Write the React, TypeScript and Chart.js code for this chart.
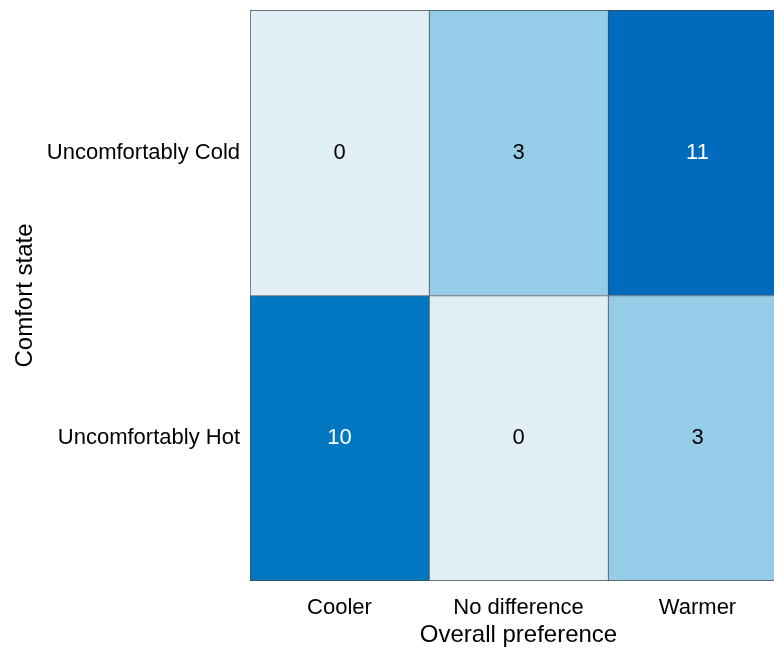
import React, { useEffect, useRef } from "react";
import { Chart, registerables } from "chart.js";

Chart.register(...registerables);

const xCategories = ["Cooler", "No difference", "Warmer"];
const yCategories = ["Uncomfortably Hot", "Uncomfortably Cold"]; // bottom to top
const hotCounts = [10, 0, 3];
const coldCounts = [0, 3, 11];
const xTitle = "Overall preference";
const yTitle = "Comfort state";

const colorStops: [number, [number, number, number]][] = [
  [0, [226, 238, 246]],
  [3, [149, 205, 233]],
  [10, [0, 120, 193]],
  [11, [0, 107, 188]],
];

function colorFor(v: number): string {
  for (let i = 0; i < colorStops.length - 1; i++) {
    const [a, ca] = colorStops[i];
    const [b, cb] = colorStops[i + 1];
    if (v >= a && v <= b) {
      const t = (v - a) / (b - a);
      const c = ca.map((x, k) => Math.round(x + (cb[k] - x) * t));
      return `rgb(${c[0]},${c[1]},${c[2]})`;
    }
  }
  const c = colorStops[colorStops.length - 1][1];
  return `rgb(${c[0]},${c[1]},${c[2]})`;
}

const FONT = "'Liberation Sans', Arial, sans-serif";

export default function App() {
  const ref = useRef<HTMLCanvasElement | null>(null);
  useEffect(() => {
    if (!ref.current) return;
    const counts = [hotCounts, coldCounts];
    const cellLabels = {
      id: "cellLabels",
      afterDatasetsDraw(chart: any) {
        const ctx = chart.ctx;
        ctx.save();
        ctx.font = `22px ${FONT}`;
        ctx.textAlign = "center";
        ctx.textBaseline = "middle";
        chart.data.datasets.forEach((ds: any, di: number) => {
          const meta = chart.getDatasetMeta(di);
          meta.data.forEach((bar: any, i: number) => {
            const v = counts[di][i];
            const { x, y, base } = bar.getProps(["x", "y", "base"], true);
            ctx.fillStyle = v >= 8 ? "#ffffff" : "#000000";
            ctx.fillText(String(v), x, (y + base) / 2);
          });
        });
        ctx.restore();
      },
    };
    const chart = new Chart(ref.current, {
      type: "bar",
      data: {
        labels: xCategories,
        datasets: [
          {
            label: yCategories[0],
            data: hotCounts.map(() => [0, 1]) as any,
            backgroundColor: hotCounts.map(colorFor),
            borderColor: "#4a4a4a",
            borderWidth: { top: 1, left: 1, bottom: 1, right: 0 } as any,
            borderSkipped: false,
            barPercentage: 1,
            categoryPercentage: 1,
          },
          {
            label: yCategories[1],
            data: coldCounts.map(() => [1, 2]) as any,
            backgroundColor: coldCounts.map(colorFor),
            borderColor: "#4a4a4a",
            borderWidth: { top: 1, left: 1, bottom: 0, right: 0 } as any,
            borderSkipped: false,
            barPercentage: 1,
            categoryPercentage: 1,
          },
        ],
      },
      options: {
        animation: false,
        responsive: false,
        devicePixelRatio: 1,
        layout: { padding: { top: 10, right: 13, left: 0, bottom: 0 } },
        plugins: { legend: { display: false }, tooltip: { enabled: false } },
        scales: {
          x: {
            stacked: true,
            grid: { display: false, drawTicks: false },
            border: { display: false },
            ticks: { color: "#000", font: { size: 22, family: FONT }, padding: 14, maxRotation: 0 },
            title: {
              display: true,
              text: xTitle,
              color: "#000",
              font: { size: 24, family: FONT },
              padding: { top: 0, bottom: 0 },
            },
            afterFit: (s: any) => {
              s.height = 69;
              s.paddingLeft = 0;
              s.paddingRight = 0;
            },
          },
          y: {
            type: "linear",
            min: 0,
            max: 2,
            stacked: false,
            grid: { display: false, drawTicks: false },
            border: { display: false },
            afterBuildTicks: (s: any) => {
              s.ticks = yCategories.map((_, i) => ({ value: i + 0.5 }));
            },
            ticks: {
              color: "#000",
              font: { size: 22, family: FONT },
              padding: 10,
              callback: (v: any) => yCategories[Math.floor(Number(v))],
            },
            title: {
              display: true,
              text: yTitle,
              color: "#000",
              font: { size: 24, family: FONT },
              padding: { top: 11, bottom: 0 },
            },
            afterFit: (s: any) => {
              s.width = 250;
              s.paddingTop = 0;
              s.paddingBottom = 0;
            },
          },
        },
      },
      plugins: [cellLabels],
    });
    return () => chart.destroy();
  }, []);
  return (
    <div style={{ position: "fixed", left: 0, top: 0, width: 774, height: 650, overflow: "hidden", background: "#fff" }}>
      <canvas ref={ref} width={800} height={650} style={{ display: "block" }} />
    </div>
  );
}
